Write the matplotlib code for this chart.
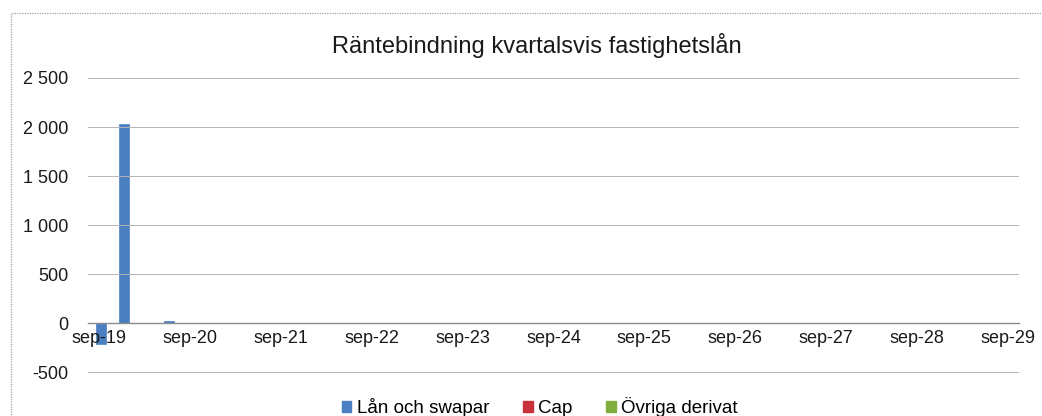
import matplotlib
matplotlib.use("Agg")
import matplotlib.pyplot as plt
from matplotlib.patches import Rectangle
import numpy as np

plt.rcParams['font.family'] = ['Liberation Sans', 'DejaVu Sans']

categories = [
    "sep-19", "dec-19", "mar-20", "jun-20", "sep-20", "dec-20", "mar-21", "jun-21",
    "sep-21", "dec-21", "mar-22", "jun-22", "sep-22", "dec-22", "mar-23", "jun-23",
    "sep-23", "dec-23", "mar-24", "jun-24", "sep-24", "dec-24", "mar-25", "jun-25",
    "sep-25", "dec-25", "mar-26", "jun-26", "sep-26", "dec-26", "mar-27", "jun-27",
    "sep-27", "dec-27", "mar-28", "jun-28", "sep-28", "dec-28", "mar-29", "jun-29",
    "sep-29",
]
lan_och_swapar = [-210, 2030, 0, 25] + [0] * 37
cap = [0] * 41
ovriga_derivat = [0] * 41
series_names = ["Lån och swapar", "Cap", "Övriga derivat"]
series_colors = ["#4a7fc1", "#c8313a", "#7fae3e"]
yticks = [-500, 0, 500, 1000, 1500, 2000, 2500]
title = "Räntebindning kvartalsvis fastighetslån"

W, H = 1042, 416
fig = plt.figure(figsize=(W / 100, H / 100), dpi=100)
ax = fig.add_axes([88 / W, 1 - 374 / H, (1019 - 88) / W, (374 - 78) / H])

x = np.arange(len(categories))
bw = 0.44
for vals, name, col in zip([lan_och_swapar, cap, ovriga_derivat], series_names, series_colors):
    ax.bar(x + 0.08, vals, width=bw, color=col, edgecolor=col, linewidth=0.5, label=name, zorder=1)

ax.set_xlim(-0.5, len(categories) - 0.5)
ax.set_ylim(-520, 2500)
ax.set_yticks(yticks)
ax.set_yticklabels([f"{v:,}".replace(",", " ") for v in yticks])
ax.set_xticks(x[::4])
ax.set_xticklabels(categories[::4])
ax.tick_params(axis='both', length=0, labelsize=13, colors='#1a1a1a')
ax.tick_params(axis='y', pad=14)
ax.tick_params(axis='x', pad=5)

for s in ['top', 'right', 'left']:
    ax.spines[s].set_visible(False)
ax.spines['bottom'].set_position(('data', 0))
ax.spines['bottom'].set_color('#8a8a8a')
ax.spines['bottom'].set_linewidth(1.0)

ax.yaxis.grid(True, color='#b4b4b4', linewidth=0.7, linestyle='-')
ax.set_axisbelow('line')

fig.text(537 / W, 1 - 45 / H, title, ha='center', va='center', fontsize=17, color='#1a1a1a')

handles = [Rectangle((0, 0), 1, 1, color=c) for c in series_colors]
leg = fig.legend(handles, series_names, loc='center', bbox_to_anchor=(540 / W, 1 - 407 / H),
                 ncol=3, frameon=False, fontsize=13.5, handlelength=0.5, handleheight=0.5,
                 handletextpad=0.3, columnspacing=1.8, borderpad=0)

frame = Rectangle((11 / W, -0.05), 1.1, 1 - 13 / H + 0.05, transform=fig.transFigure,
                  fill=False, edgecolor='#a0a0a0', linewidth=0.9, linestyle=(0, (1, 1)))
fig.patches.append(frame)

fig.savefig("out.png", dpi=100)
